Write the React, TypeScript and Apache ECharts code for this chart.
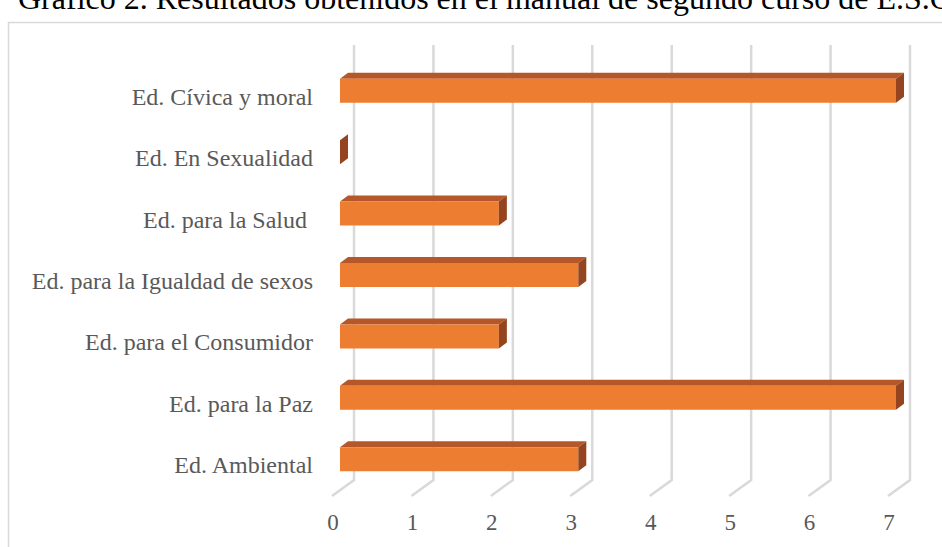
import React, { useEffect, useRef } from "react";
import * as echarts from "echarts";

const categories = [
  "Ed. Cívica y moral",
  "Ed. En Sexualidad",
  "Ed. para la Salud ",
  "Ed. para la Igualdad de sexos",
  "Ed. para el Consumidor",
  "Ed. para la Paz",
  "Ed. Ambiental",
];
const values = [7, 0, 2, 3, 2, 7, 3];
const tickValues = [0, 1, 2, 3, 4, 5, 6, 7];
const titleText = "Gráfico 2. Resultados obtenidos en el manual de segundo curso de E.S.O";

const FRONT = "#ED7D31";
const TOP = "#B55728";
const SIDE = "#94441F";
const GRID = "#D9D9D9";
const LABEL = "#595959";
const FONT = "'Liberation Serif', 'Times New Roman', serif";

export default function App() {
  const ref = useRef<HTMLDivElement>(null);
  useEffect(() => {
    if (!ref.current) return;
    const chart = echarts.init(ref.current, undefined, { renderer: "svg" });
    const barH = 24;
    const dx = 8;
    const dy = 6;
    chart.setOption({
      animation: false,
      backgroundColor: "#fff",
      grid: { left: 340, right: 46, top: 60, height: 430 },
      xAxis: {
        type: "value",
        min: 0,
        max: 7,
        interval: 1,
        axisLine: { show: false },
        axisTick: { show: false },
        splitLine: { show: false },
        axisLabel: {
          color: LABEL,
          fontFamily: FONT,
          fontSize: 23,
          margin: 21,
          padding: [0, 14, 0, 0],
        },
      },
      yAxis: {
        type: "category",
        inverse: true,
        data: categories,
        axisLine: { show: false },
        axisTick: { show: false },
        splitLine: { show: false },
        axisLabel: {
          color: LABEL,
          fontFamily: FONT,
          fontSize: 24,
          margin: 27,
          verticalAlign: "top",
          lineHeight: 12,
        },
      },
      graphic: [
        {
          type: "rect",
          shape: { x: 8.5, y: 22.5, width: 1000, height: 600 },
          style: { fill: "none", stroke: GRID, lineWidth: 1.5 },
          z: 0,
        },
        {
          type: "text",
          x: 18,
          y: 14,
          style: {
            text: titleText,
            font: `32px ${FONT}`,
            fill: "#000",
            textVerticalAlign: "bottom",
          },
        },
      ],
      series: [
        {
          type: "custom",
          z: 1,
          data: tickValues.map((v) => [v]),
          renderItem: (params: any, api: any) => {
            const cs = params.coordSys;
            const v = api.value(0);
            const p = api.coord([v, 0]);
            const bx = p[0] + 14;
            const topY = cs.y - 15;
            const botY = cs.y + cs.height - 10;
            return {
              type: "polyline",
              shape: {
                points: [
                  [bx, topY],
                  [bx, botY],
                  [bx - 22, botY + 16],
                ],
              },
              style: { stroke: GRID, lineWidth: 2.5, fill: "none" },
            };
          },
        },
        {
          type: "custom",
          z: 2,
          data: values.map((v, i) => [v, i]),
          renderItem: (params: any, api: any) => {
            const v = api.value(0);
            const idx = api.value(1);
            const p0 = api.coord([0, idx]);
            const p1 = api.coord([v, idx]);
            const x0 = p0[0];
            const x1 = p1[0];
            const yTop = p0[1] - barH / 2;
            const yBot = p0[1] + barH / 2;
            const children: any[] = [];
            if (x1 - x0 > 0.5) {
              children.push({
                type: "polygon",
                shape: {
                  points: [
                    [x0, yTop],
                    [x0 + dx, yTop - dy],
                    [x1 + dx, yTop - dy],
                    [x1, yTop],
                  ],
                },
                style: { fill: TOP },
              });
              children.push({
                type: "rect",
                shape: { x: x0, y: yTop, width: x1 - x0, height: barH },
                style: { fill: FRONT },
              });
            }
            children.push({
              type: "polygon",
              shape: {
                points: [
                  [x1, yTop],
                  [x1 + dx, yTop - dy],
                  [x1 + dx, yBot - dy],
                  [x1, yBot],
                ],
              },
              style: { fill: SIDE },
            });
            return { type: "group", children };
          },
        },
      ],
    });
    return () => chart.dispose();
  }, []);
  return (
    <div
      ref={ref}
      style={{ position: "fixed", left: 0, top: 0, width: 942, height: 547 }}
    />
  );
}
